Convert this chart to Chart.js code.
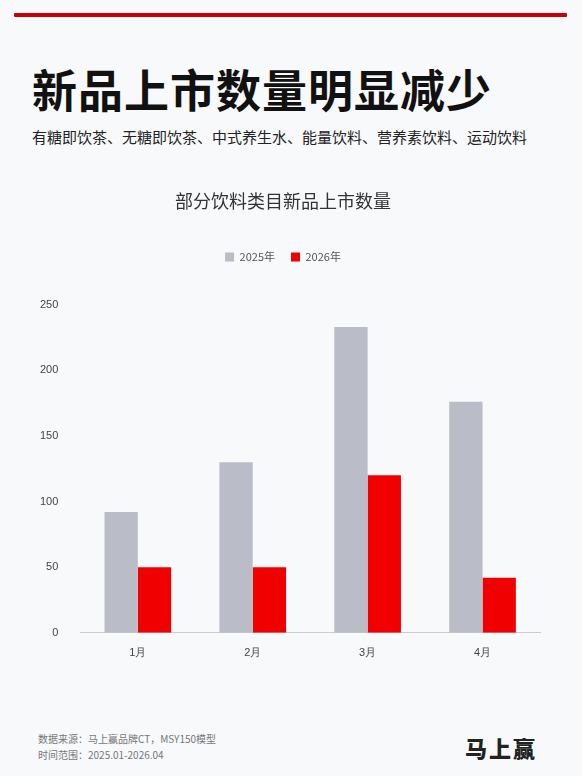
<!DOCTYPE html>
<html><head><meta charset="utf-8">
<script src="https://cdn.jsdelivr.net/npm/chart.js@4"></script>
<style>
body{margin:0;width:582px;height:776px;background:#f8f9fb;font-family:"Noto Sans CJK SC","Noto Sans",sans-serif;position:relative;overflow:hidden}
.bar{position:absolute;left:14px;top:13px;width:553px;height:4px;background:#c8000a;border-radius:1px}
h1{position:absolute;left:32px;top:56px;margin:0;font-size:45px;font-weight:700;color:#111;letter-spacing:1px}
.sub{position:absolute;left:32px;top:126px;font-size:15px;color:#222}
#wrap{position:absolute;left:0;top:186px;width:582px;height:480px}
.src{position:absolute;left:38px;top:731px;font-size:10px;color:#777;line-height:16px}
.logo{position:absolute;left:465px;top:731px;font-size:22px;font-weight:900;color:#222;letter-spacing:2px}
</style></head><body>
<div class="bar"></div>
<h1>新品上市数量明显减少</h1>
<div class="sub">有糖即饮茶、无糖即饮茶、中式养生水、能量饮料、营养素饮料、运动饮料</div>
<div id="wrap"><canvas id="c"></canvas></div>
<div class="src">数据来源：马上赢品牌CT，MSY150模型<br>时间范围：2025.01-2026.04</div>
<div class="logo">马上赢</div>
<script>
const months = ['1月', '2月', '3月', '4月'];
const y2025 = [92, 130, 233, 176];
const y2026 = [50, 50, 120, 42];

const legendGap = {
  id: 'legendGap',
  beforeInit(chart) {
    const fit = chart.legend.fit;
    chart.legend.fit = function () { fit.bind(chart.legend)(); this.height += 32; };
  }
};

new Chart(document.getElementById('c'), {
  type: 'bar',
  data: {
    labels: months,
    datasets: [
      { label: '2025年', data: y2025, backgroundColor: '#babcc8', categoryPercentage: 0.58, barPercentage: 1 },
      { label: '2026年', data: y2026, backgroundColor: '#f00000', categoryPercentage: 0.58, barPercentage: 1 },
    ]
  },
  plugins: [legendGap],
  options: {
    responsive: true, maintainAspectRatio: false, animation: false,
    layout: { padding: { left: 26, right: 42, top: 0, bottom: 0 } },
    plugins: {
      title: { display: true, text: '部分饮料类目新品上市数量', color: '#333', font: { size: 18, family: 'Noto Sans CJK SC', weight: 'normal' }, padding: { top: 4, bottom: 24 } },
      legend: { labels: { color: '#555', font: { size: 11, family: 'Noto Sans CJK SC' }, boxWidth: 9, boxHeight: 9, padding: 16 } },
      tooltip: { enabled: false }
    },
    scales: {
      x: { grid: { display: false }, border: { color: '#ccc' }, ticks: { color: '#444', font: { size: 11 }, padding: 6 } },
      y: { min: 0, max: 250, ticks: { stepSize: 50, color: '#444', font: { size: 11 }, padding: 14 }, grid: { display: false }, border: { display: false } }
    }
  }
});
</script>
</body></html>
